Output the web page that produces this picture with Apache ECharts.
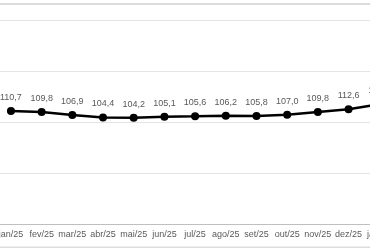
<!DOCTYPE html>
<html>
<head>
<meta charset="utf-8">
<script src="https://cdn.jsdelivr.net/npm/echarts@6/dist/echarts.min.js"></script>
<style>
html,body{margin:0;padding:0;background:#fff;overflow:hidden;width:370px;height:250px;}
#c{position:absolute;left:-20px;top:0;width:430px;height:250px;}
</style>
</head>
<body>
<div id="c"></div>
<script>
var categories = ['jan/25','fev/25','mar/25','abr/25','mai/25','jun/25','jul/25','ago/25','set/25','out/25','nov/25','dez/25','jan/26'];
var values = [110.7,109.8,106.9,104.4,104.2,105.1,105.6,106.2,105.8,107.0,109.8,112.6,117.5];
var yMin = 0, yMax = 200, yStep = 50;

var chart = echarts.init(document.getElementById('c'), null, {renderer:'canvas'});
chart.setOption({
  animation:false,
  backgroundColor:'#ffffff',
  textStyle:{fontFamily:'Liberation Sans, Arial, sans-serif'},
  grid:{left:15.6, right:15.4, top:20, bottom:26, containLabel:false},
  xAxis:{
    type:'category',
    data:categories,
    boundaryGap:true,
    axisLine:{lineStyle:{color:'#bfbfbf', width:1}},
    axisTick:{show:false},
    axisLabel:{color:'#595959', fontSize:9, margin:6, interval:0}
  },
  yAxis:{
    type:'value',
    min:yMin, max:yMax, interval:yStep,
    axisLine:{show:false}, axisTick:{show:false}, axisLabel:{show:false},
    splitLine:{lineStyle:{color:'#e4e4e4', width:1}}
  },
  graphic:[
    {type:'rect', shape:{x:0,y:3,width:430,height:2}, style:{fill:'#dcdcdc'}, silent:true},
    {type:'rect', shape:{x:0,y:246.5,width:430,height:1.5}, style:{fill:'#dcdcdc'}, silent:true}
  ],
  series:[{
    type:'line',
    data:values,
    lineStyle:{color:'#000000', width:2.5},
    itemStyle:{color:'#000000'},
    symbol:'circle',
    symbolSize:8,
    label:{
      show:true, position:'top', distance:5,
      color:'#595959', fontSize:9,
      formatter:function(p){return p.value.toFixed(1).replace('.',',');}
    }
  }]
});
</script>
</body>
</html>
